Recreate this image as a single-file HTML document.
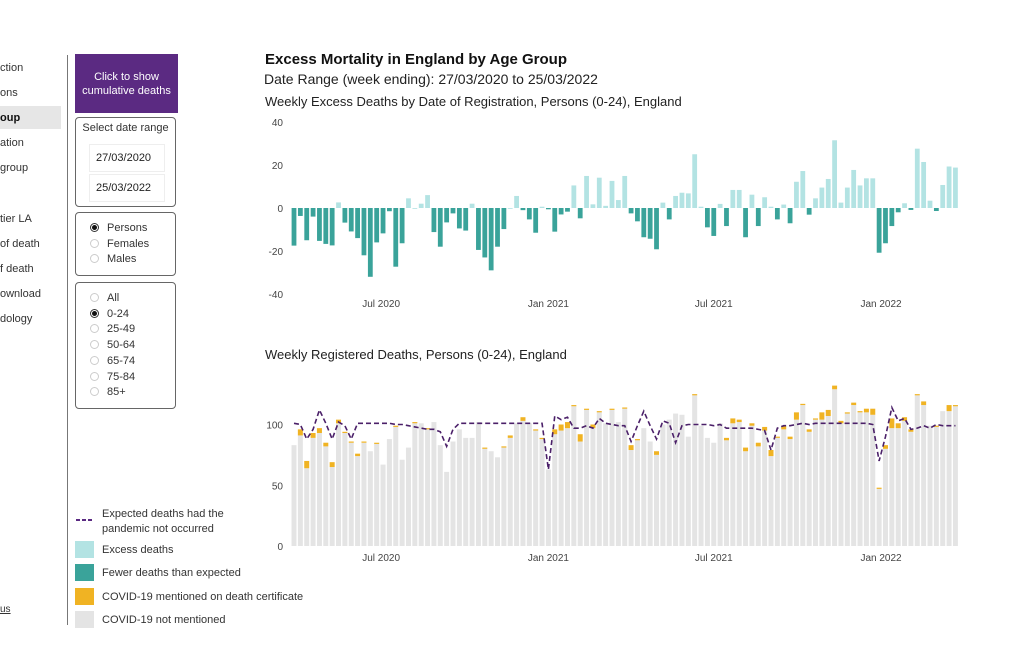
<!DOCTYPE html>
<html><head><meta charset="utf-8">
<style>
body{margin:0;width:1024px;height:655px;background:#fff;font-family:"Liberation Sans",sans-serif;position:relative;overflow:hidden;color:#222}
.nav{position:absolute;left:0;font-size:11px;color:#333}
.box{position:absolute;left:75px;width:101px;border:1px solid #666;border-radius:4px;box-sizing:border-box}
.rad{position:absolute;left:14px;font-size:11px;color:#333}
.rad i{display:inline-block;width:9px;height:9px;border:1px solid #ccc;border-radius:50%;margin-right:8px;vertical-align:-1px;box-sizing:border-box}
.rad i.on{border:1px solid #333;background:radial-gradient(#111 45%,#fff 55%)}
.lg{position:absolute;left:102px;font-size:11px;color:#333}
.sw{position:absolute;left:75px;width:19px;height:17px}
</style></head><body>
<div class="nav" style="top:62px">ction</div>
<div class="nav" style="top:87px">ons</div>
<div style="position:absolute;left:0;top:106px;width:61px;height:23px;background:#e6e6e6"></div>
<div class="nav" style="top:112px;font-weight:bold;color:#111">oup</div>
<div class="nav" style="top:137px">ation</div>
<div class="nav" style="top:162px">group</div>
<div class="nav" style="top:213px">tier LA</div>
<div class="nav" style="top:238px">of death</div>
<div class="nav" style="top:263px">f death</div>
<div class="nav" style="top:288px">ownload</div>
<div class="nav" style="top:313px">dology</div>
<div class="nav" style="top:604px;text-decoration:underline;font-size:10px">us</div>
<div style="position:absolute;left:67px;top:55px;width:1px;height:570px;background:#777"></div>

<div style="position:absolute;left:75px;top:54px;width:103px;height:59px;background:#5b2a82;color:#fff;font-size:11px;text-align:center;line-height:14px;box-sizing:border-box;padding-top:16px">Click to show<br>cumulative deaths</div>

<div class="box" style="top:117px;height:90px">
 <div style="position:absolute;left:0;width:100%;top:4px;text-align:center;font-size:11px;color:#333">Select date range</div>
 <div style="position:absolute;left:13px;top:26px;width:68px;height:26px;border:1px solid #eee;font-size:11px;line-height:26px;padding-left:6px;overflow:hidden;white-space:nowrap">27/03/2020</div>
 <div style="position:absolute;left:13px;top:56px;width:68px;height:26px;border:1px solid #eee;font-size:11px;line-height:26px;padding-left:6px;overflow:hidden;white-space:nowrap">25/03/2022</div>
</div>
<div class="box" style="top:212px;height:64px">
 <div class="rad" style="top:9px"><i class="on"></i>Persons</div>
 <div class="rad" style="top:25px"><i></i>Females</div>
 <div class="rad" style="top:40px"><i></i>Males</div>
</div>
<div class="box" style="top:282px;height:127px">
 <div class="rad" style="top:9px"><i></i>All</div>
 <div class="rad" style="top:25px"><i class="on"></i>0-24</div>
 <div class="rad" style="top:40px"><i></i>25-49</div>
 <div class="rad" style="top:56px"><i></i>50-64</div>
 <div class="rad" style="top:72px"><i></i>65-74</div>
 <div class="rad" style="top:88px"><i></i>75-84</div>
 <div class="rad" style="top:103px"><i></i>85+</div>
</div>

<svg style="position:absolute;left:75px;top:514px" width="20" height="12"><line x1="1" y1="6" x2="19" y2="6" stroke="#5a2a82" stroke-width="2" stroke-dasharray="4,2"/></svg>
<div class="lg" style="top:507px;line-height:15px">Expected deaths had the<br>pandemic not occurred</div>
<div class="sw" style="top:541px;background:#b3e3e3"></div>
<div class="lg" style="top:544px">Excess deaths</div>
<div class="sw" style="top:564px;background:#3aa39a"></div>
<div class="lg" style="top:567px">Fewer deaths than expected</div>
<div class="sw" style="top:588px;background:#f0b323"></div>
<div class="lg" style="top:591px">COVID-19 mentioned on death certificate</div>
<div class="sw" style="top:611px;background:#e4e4e4"></div>
<div class="lg" style="top:614px">COVID-19 not mentioned</div>

<div style="position:absolute;left:265px;top:51px;font-size:15px;font-weight:bold;color:#111">Excess Mortality in England by Age Group</div>
<div style="position:absolute;left:264px;top:71px;font-size:14px;color:#222">Date Range (week ending): 27/03/2020 to 25/03/2022</div>
<div style="position:absolute;left:265px;top:94px;font-size:13px;color:#222">Weekly Excess Deaths by Date of Registration, Persons (0-24), England</div>
<div style="position:absolute;left:265px;top:347px;font-size:13px;color:#222">Weekly Registered Deaths, Persons (0-24), England</div>

<svg id="chart" style="position:absolute;left:0;top:0" width="1024" height="655"></svg>
<script>
const excess=[-17.5,-3.7,-15,-4,-15.3,-16.7,-17.4,2.6,-6.8,-10.9,-14,-22,-32,-16,-11.8,-1.5,-27.3,-16.4,4.5,0,2,6,-11.2,-18,-6.7,-2.5,-9.5,-10.5,2,-19.5,-23,-29,-18,-9.8,0,5.6,-1,-5.3,-11.5,0.6,-0.6,-11,-3,-1.7,10.5,-4.8,14.9,1.7,14.1,1,12.6,3.7,14.9,-2.5,-6.2,-13.6,-14.3,-19.2,2.5,-5.3,5.6,7.1,6.8,25,0.6,-9,-13,1.9,-8.4,8.4,8.4,-13.6,6.2,-8.4,5,0.6,-5.3,1.6,-7.1,12.2,17.2,-3.1,4.5,9.5,13.5,31.5,2.5,9.5,17.7,10.5,13.8,13.8,-20.8,-16.4,-8.4,-2,2.2,-0.9,27.6,21.4,3.4,-1.4,10.7,19.3,18.8];
const total=[83,96,70,93,97,85,69,104,94,86,76,86,78,85,67,88,99,71,81,102,101,97,102,83,61,86,96,89,89,102,81,78,73,82,91,101,106,101,96,89,63,96,100,102,116,92,113,100,111,101,113,102,114,83,88,97,86,78,100,104,109,108,90,125,99,89,85,101,89,105,104,81,101,85,98,79,90,99,90,110,117,96,105,110,112,132,103,110,118,111,113,113,48,83,105,101,106,96,125,119,99,99,111,116,116];
const covid=[0,5,6,4,4,3,4,3,1,1,2,1,0,1,0,0,1,0,0,1,0,1,0,0,0,0,0,0,0,0,1,0,0,1,2,0,3,0,1,1,0,4,5,5,1,6,1,3,1,0,1,0,1,4,1,0,0,3,0,0,0,0,0,1,0,0,0,0,2,4,2,3,2,3,3,5,1,3,2,6,1,2,1,6,5,3,2,1,2,1,3,5,1,3,8,4,3,2,1,3,0,1,0,5,1];
const expected=[101,100,88,96,112,101,88,102,99,88,101,101,101,101,101,101,100,100,99,98,97,96,96,94,82,96,101,101,101,101,101,101,101,101,101,101,101,101,101,101,63,107,104,106,97,97,99,97,105,101,100,99,99,86,99,111,99,88,103,101,85,99,100,100,100,100,99,100,97,97,97,97,97,96,95,79,97,99,99,100,101,100,101,101,101,101,101,101,101,101,101,100,70,90,114,103,105,96,97,99,97,100,99,99,99];
const topTicks=[40,20,0,-20,-40];
const botTicks=[100,50,0];
const xLabels=["Jul 2020","Jan 2021","Jul 2021","Jan 2022"];
const xLabelIdx=[13.7,40,66,92.3];

const svg=document.getElementById('chart');
const NS='http://www.w3.org/2000/svg';
const x=i=>294+i*6.36;
const yT=v=>208-v*2.15;
const yB=v=>546-v*1.215;
function mk(tag,attrs){const e=document.createElementNS(NS,tag);for(const k in attrs)e.setAttribute(k,attrs[k]);svg.appendChild(e);return e;}
topTicks.forEach(t=>{const e=mk('text',{x:283,y:yT(t)+4,'text-anchor':'end','font-size':10,fill:'#444'});e.textContent=t;

});
botTicks.forEach(t=>{const e=mk('text',{x:283,y:yB(t)+4,'text-anchor':'end','font-size':10,fill:'#444'});e.textContent=t;

});
xLabels.forEach((l,k)=>{const xx=x(xLabelIdx[k]);
let e=mk('text',{x:xx,y:307,'text-anchor':'middle','font-size':10,fill:'#444'});e.textContent=l;


e=mk('text',{x:xx,y:561,'text-anchor':'middle','font-size':10,fill:'#444'});e.textContent=l;

});
excess.forEach((v,i)=>{const y0=yT(0),y1=yT(v);
const r=mk('rect',{x:x(i)-2.4,y:Math.min(y0,y1),width:4.8,height:Math.max(Math.abs(y1-y0),0.8),fill:v>=0?'#b3e3e3':'#3aa39a'});

});
total.forEach((v,i)=>{const c=covid[i];
const g=mk('rect',{x:x(i)-2.5,y:yB(v-c),width:5,height:yB(0)-yB(v-c),fill:'#e4e4e4'});


if(c>0){const yb=mk('rect',{x:x(i)-2.5,y:yB(v),width:5,height:yB(v-c)-yB(v),fill:'#f0b323'});

}});
const p=mk('polyline',{points:expected.map((v,i)=>x(i)+','+yB(v)).join(' '),fill:'none',stroke:'#4b2069','stroke-width':1.6,'stroke-dasharray':'5,3'});


</script>
</body></html>
